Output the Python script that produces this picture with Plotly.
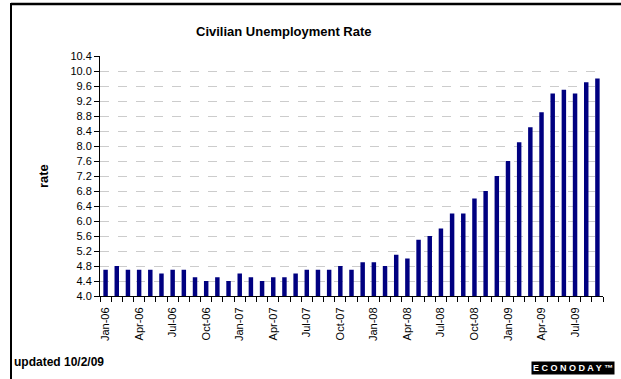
import plotly.graph_objects as go

months = ["Jan", "Feb", "Mar", "Apr", "May", "Jun", "Jul", "Aug", "Sep", "Oct", "Nov", "Dec"]
categories = [f"{m}-{y:02d}" for y in (6, 7, 8, 9) for m in months][:45]
rates = [4.7, 4.8, 4.7, 4.7, 4.7, 4.6, 4.7, 4.7, 4.5, 4.4, 4.5, 4.4,
         4.6, 4.5, 4.4, 4.5, 4.5, 4.6, 4.7, 4.7, 4.7, 4.8, 4.7, 4.9,
         4.9, 4.8, 5.1, 5.0, 5.5, 5.6, 5.8, 6.2, 6.2, 6.6, 6.8, 7.2,
         7.6, 8.1, 8.5, 8.9, 9.4, 9.5, 9.4, 9.7, 9.8]
y_ticks = [round(4.0 + 0.4 * i, 1) for i in range(17)]
label_idx = list(range(0, len(categories), 3))

FONT = "Arial, Liberation Sans, sans-serif"

x = list(range(len(categories)))
fig = go.Figure(go.Bar(x=x, y=rates, width=0.4,
                       marker=dict(color="#000080", line=dict(width=0))))

W, H = 621, 379
L, R, T, B = 100, 18, 56, 83
pw, ph = W - L - R, H - T - B

def px(xp):
    return (xp - L) / pw

def py(yp):
    return (H - B - yp) / ph

fig.update_layout(
    width=W, height=H,
    margin=dict(l=L, r=R, t=T, b=B),
    paper_bgcolor="white", plot_bgcolor="white",
    showlegend=False,
    font=dict(family=FONT, size=11, color="black"),
    xaxis=dict(
        range=[-0.5, len(categories) - 0.5],
        tickmode="array", tickvals=label_idx,
        ticktext=[categories[i] for i in label_idx],
        tickangle=-90, ticks="outside", ticklen=6, tickcolor="rgba(0,0,0,0)",
        showline=True, linecolor="black", linewidth=1,
        showgrid=False, zeroline=False,
        minor=dict(ticks="outside", ticklen=5, tickcolor="black",
                   tick0=-0.5, dtick=1, showgrid=False),
        tickfont=dict(size=11),
    ),
    yaxis=dict(
        range=[4.0, 10.4],
        tickmode="array", tickvals=y_ticks,
        ticktext=[f"{v:.1f}" for v in y_ticks],
        ticks="outside", ticklen=5, tickcolor="black",
        showline=True, linecolor="black", linewidth=1,
        showgrid=True, gridcolor="#cccccc", griddash="dash", gridwidth=1,
        zeroline=False, tickfont=dict(size=11),
    ),
    shapes=[
        dict(type="line", xref="paper", yref="paper",
             x0=px(11), x1=px(W + 5), y0=py(4), y1=py(4),
             line=dict(color="black", width=2.5)),
        dict(type="line", xref="paper", yref="paper",
             x0=px(11), x1=px(11), y0=py(3), y1=py(H + 5),
             line=dict(color="black", width=2)),
    ],
    annotations=[
        dict(text="<b>Civilian Unemployment Rate</b>", xref="paper", yref="paper",
             x=px(284), y=py(32), showarrow=False, xanchor="center", yanchor="middle",
             font=dict(size=13, family=FONT)),
        dict(text="<b>rate</b>", xref="paper", yref="paper",
             x=px(43), y=py(176), showarrow=False, textangle=-90,
             xanchor="center", yanchor="middle", font=dict(size=13, family=FONT)),
        dict(text="<b>updated 10/2/09</b>", xref="paper", yref="paper",
             x=px(12), y=py(362), showarrow=False, xanchor="left", yanchor="middle",
             font=dict(size=12, family=FONT)),
        dict(text="<b>E C O N O D A Y ™</b>", xref="paper", yref="paper",
             x=px(573), y=py(368), showarrow=False, xanchor="center", yanchor="middle",
             bgcolor="black", borderpad=1,
             font=dict(size=9, family=FONT, color="white")),
    ],
)

fig.write_html("out.html")
